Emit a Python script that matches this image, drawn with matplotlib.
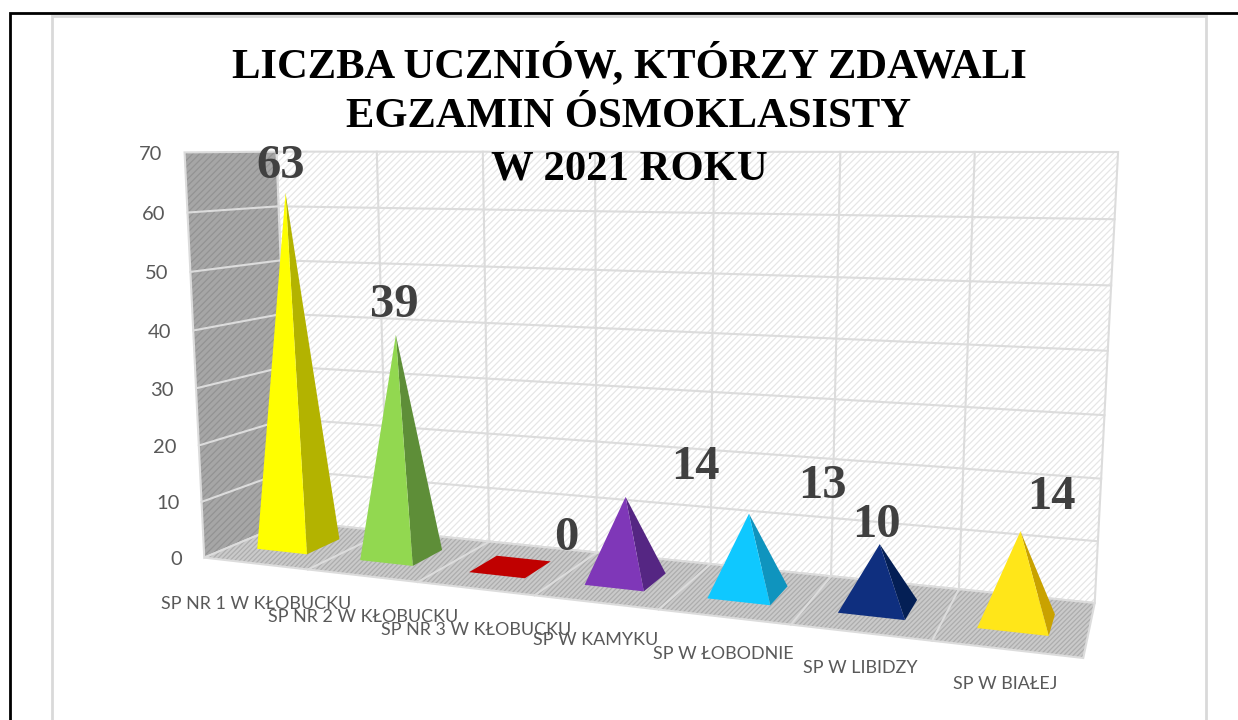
import matplotlib
matplotlib.use('Agg')
import matplotlib.pyplot as plt
from matplotlib.patches import Polygon
import numpy as np

categories = ['SP NR 1 W KŁOBUCKU', 'SP NR 2 W KŁOBUCKU', 'SP NR 3 W KŁOBUCKU', 'SP W KAMYKU',
              'SP W ŁOBODNIE', 'SP W LIBIDZY', 'SP W BIAŁEJ']
values = [63, 39, 0, 14, 13, 10, 14]
y_ticks = [0, 10, 20, 30, 40, 50, 60, 70]
title_lines = ['LICZBA UCZNIÓW, KTÓRZY ZDAWALI', 'EGZAMIN ÓSMOKLASISTY', 'W 2021 ROKU']

front_colors = ['#ffff00', '#92d850', '#c00000', '#7f37b8', '#0fc8ff', '#0f2f7f', '#ffe619']
side_colors = ['#b3b300', '#5e8e38', '#c00000', '#552683', '#0f94be', '#041f55', '#c9a200']

# manual label placement, pixels relative to the tip of the pyramid
label_offsets = [(-5, -27), (-2, -30), (56, -29), (70, -30), (73, -28), (-3, -19), (31, -34)]
cat_label_offsets = [(1, 41), (1, 41), (1, 41), (0, 38), (0, 37), (0, 35), (-1, 35)]

# corners of the chart box in the picture, used to fit the perspective
# (category position, depth, value) -> pixel
box_world = [(0, 1, 0), (7, 1, 0), (0, 1, 70), (7, 1, 70), (0, 0, 0), (7, 0, 0), (0, 0, 70)]
box_pixel = [(290, 521), (1095, 603), (277, 152), (1118, 152), (205, 558), (1083, 658), (184, 152)]


def fit_camera(world, pixel):
    rows = []
    for (x, z, v), (px, py) in zip(world, pixel):
        rows.append([x, z, v, 1, 0, 0, 0, 0, -px * x, -px * z, -px * v, -px])
        rows.append([0, 0, 0, 0, x, z, v, 1, -py * x, -py * z, -py * v, -py])
    _, _, vt = np.linalg.svd(np.array(rows, dtype=float))
    return vt[-1].reshape(3, 4)


camera = fit_camera(box_world, box_pixel)


def project(x, z, v):
    p = camera @ np.array([x, z, v, 1.0])
    return p[0] / p[2], p[1] / p[2]


fig = plt.figure(figsize=(12.38, 7.2), dpi=100)
ax = fig.add_axes([0, 0, 1, 1])
ax.set_xlim(0, 1238)
ax.set_ylim(720, 0)
ax.axis('off')

plt.rcParams['hatch.linewidth'] = 0.9

# page frame
ax.plot([10, 10, 1238], [720, 13, 13], color='black', lw=2, solid_joinstyle='miter')
ax.plot([52, 52, 1206, 1206], [720, 16, 16, 720], color='#d9d9d9', lw=2, solid_joinstyle='miter')

grid = '#dcdcdc'


def face(corners, fc, hatch, hc):
    pts = [project(*c) for c in corners]
    ax.add_patch(Polygon(pts, closed=True, facecolor=fc, edgecolor=hc, hatch=hatch, lw=0))
    ax.add_patch(Polygon(pts, closed=True, fill=False, edgecolor=grid, lw=1.5))


def grid_line(a, b):
    pa, pb = project(*a), project(*b)
    ax.plot([pa[0], pb[0]], [pa[1], pb[1]], color=grid, lw=1.5)


# walls and floor
face([(0, 1, 0), (7, 1, 0), (7, 1, 70), (0, 1, 70)], 'white', '/////', '#e6e6e6')
face([(0, 0, 0), (0, 1, 0), (0, 1, 70), (0, 0, 70)], '#a6a6a6', '/////', '#939393')
face([(0, 0, 0), (7, 0, 0), (7, 1, 0), (0, 1, 0)], '#cacaca', '///////', '#adadad')

for t in y_ticks[1:-1]:
    grid_line((0, 1, t), (7, 1, t))
    grid_line((0, 0, t), (0, 1, t))
for i in range(1, 7):
    grid_line((i, 1, 0), (i, 1, 70))
    grid_line((i, 0, 0), (i, 1, 0))

# pyramids
half_w = 0.245
half_d = 0.2
for i, val in enumerate(values):
    cx = i + 0.5
    fl = project(cx - half_w, 0.5 - half_d, 0)
    fr = project(cx + half_w, 0.5 - half_d, 0)
    br = project(cx + half_w, 0.5 + half_d, 0)
    bl = project(cx - half_w, 0.5 + half_d, 0)
    tip = project(cx, 0.5, val)
    if val == 0:
        ax.add_patch(Polygon([fl, fr, br, bl], closed=True, facecolor=front_colors[i], lw=0, zorder=3))
    else:
        ax.add_patch(Polygon([fr, br, tip], closed=True, facecolor=side_colors[i], lw=0, zorder=3))
        ax.add_patch(Polygon([fl, fr, tip], closed=True, facecolor=front_colors[i], lw=0, zorder=3))
    ax.text(tip[0] + label_offsets[i][0], tip[1] + label_offsets[i][1], str(val), ha='center', va='center',
            family='Liberation Serif', weight='bold', fontsize=35, color='#404040', zorder=5)
    front = project(cx, 0, 0)
    ax.text(front[0] + cat_label_offsets[i][0], front[1] + cat_label_offsets[i][1], categories[i],
            ha='center', va='center', family='Lato', fontsize=12.9, color='#595959', zorder=5)

# value axis
for t in y_ticks:
    px, py = project(0, 0, t)
    ax.text(px - 22, py + 2, str(t), ha='right', va='center', family='Lato', fontsize=14.5, color='#595959')

# title
for line, yy in zip(title_lines, [77, 127, 180]):
    ax.text(629, yy, line, ha='center', va='baseline', family='Liberation Serif', weight='bold',
            fontsize=30.7, color='black', zorder=6)

fig.savefig('out.png', dpi=100)
